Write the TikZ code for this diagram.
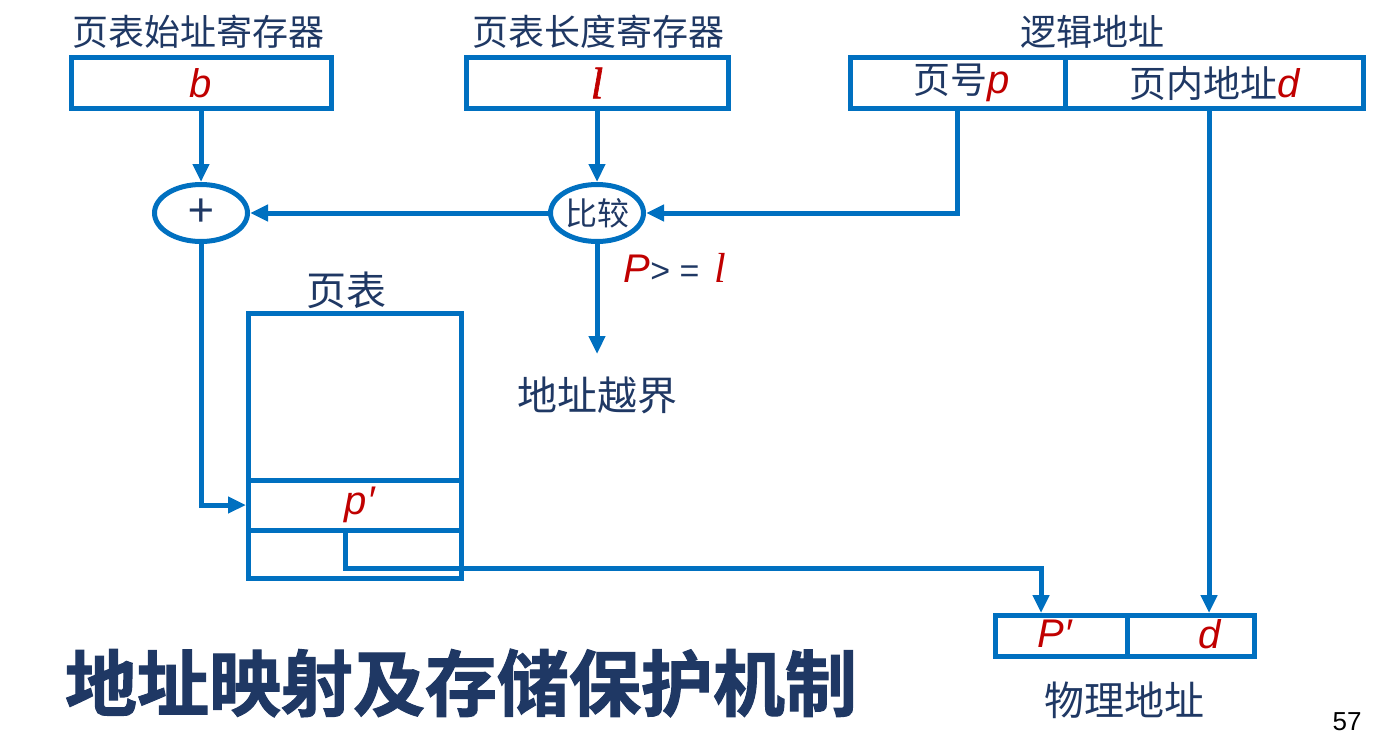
\documentclass[tikz,border=0pt]{standalone}
\usepackage{fontspec}
\setmainfont{Noto Sans CJK SC}
\newfontfamily\titlefont{Noto Sans CJK SC Bold}[FakeBold=1.5]
\newfontfamily\latinsans{Liberation Sans}
\newfontfamily\latinserif{Liberation Serif}
\newfontfamily\latinserifbold{Liberation Serif}[FakeBold=1.5]
\usetikzlibrary{arrows.meta,shapes.geometric}

\definecolor{lineblue}{HTML}{0070C0}
\definecolor{textblue}{HTML}{1F3864}
\definecolor{varred}{HTML}{C00000}

% 变量（红色斜体）
\newcommand{\var}[1]{{\color{varred}\latinsans\itshape\fontsize{40}{44}\selectfont #1}}
\newcommand{\varl}{{\color{varred}\latinserif\itshape\fontsize{42}{46}\selectfont l}}

\tikzset{
    cell/.style={draw=lineblue, rectangle, inner sep=0pt, line width=5pt,
        text=textblue, font=\fontsize{37}{40}\selectfont},
    oval/.style={draw=lineblue, ellipse, minimum width=93pt, minimum height=57pt,
        inner sep=0pt, line width=5pt, text=textblue, font=\fontsize{32}{36}\selectfont},
    arr/.style={draw=lineblue, line width=5pt, -{Triangle[length=18pt,width=16pt]}},
    lbl/.style={text=textblue, inner sep=0pt, font=\fontsize{36}{40}\selectfont},
    biglbl/.style={text=textblue, inner sep=0pt, font=\fontsize{40}{44}\selectfont},
}

\begin{document}
\begin{tikzpicture}[x=1pt, y=-1pt]
    \useasboundingbox (0,0) rectangle (1376,744);

    % 寄存器
    \node[cell, minimum width=260pt, minimum height=51pt] (base) at (201,83) {\var{b}};
    \node[cell, minimum width=262pt, minimum height=51pt] (limit) at (597,83)
        {{\color{varred}\latinserifbold\itshape\fontsize{44}{46}\selectfont l}};
    \node[lbl] (baselbl) at (198,32) {页表始址寄存器};
    \node[lbl] (limitlbl) at (598,32) {页表长度寄存器};

    % 逻辑地址
    \node[cell, minimum width=214.5pt, minimum height=51pt] (pagenum) at (957.75,83) {\hspace{8pt}页号\var{p}};
    \node[cell, minimum width=298.5pt, minimum height=51pt] (offset) at (1214.25,83) {页内地址\var{d}\hspace{12pt}};
    \node[lbl] (logiclbl) at (1092,32) {逻辑地址};

    % 加法器与比较器
    \node[oval, font=\fontsize{46}{48}\selectfont] (adder) at (201,213) {+};
    \node[oval] (comparer) at (597,213) {比较};
    \node[text=textblue, inner sep=0pt, font=\latinsans\fontsize{34}{40}\selectfont] (cond) at (675,268)
        {\var{P}>\;=\;\,\varl};
    \coordinate (oobtip) at (597,354);
    \node[biglbl] (oob) at (597,395) {地址越界};

    % 页表
    \node[cell, minimum width=212.5pt, minimum height=166.5pt] (ptbody) at (354.75,396.75) {};
    \node[cell, minimum width=212.5pt, minimum height=50pt] (ptentry) at (354.75,505) {\hspace{10pt}\var{p′}};
    \node[cell, minimum width=212.5pt, minimum height=48pt] (ptnext) at (354.75,554) {};
    \node[biglbl] (ptlbl) at (346,290) {页表};

    % 物理地址
    \node[cell, minimum width=131.5pt, minimum height=41pt] (frame) at (1061.25,636) {};
    \node[cell, minimum width=127.5pt, minimum height=41pt] (physoff) at (1190.75,636) {};
    \node[inner sep=0pt] (framev) at (1055,634) {\var{P′}};
    \node[inner sep=0pt] (physd) at (1210,634) {\var{d}};
    \node[biglbl] (physlbl) at (1124,700) {物理地址};

    % 连线
    \draw[arr] (base.south) -- (adder.north);
    \draw[arr] (limit.south) -- (comparer.north);
    \draw[arr] (pagenum.south) |- (comparer.east);
    \draw[arr] (comparer.west) -- (adder.east);
    \draw[arr] (comparer.south) -- (oobtip);
    \draw[arr] (adder.south) |- (ptentry.west);
    \coordinate (pfout) at (345,530);
    \coordinate (pfbend) at (1041,568);
    \draw[arr] (pfout) |- (pfbend) -- (frame.north -| pfbend);
    \coordinate (dcol) at (1209,0);
    \draw[arr] (offset.south -| dcol) -- (physoff.north -| dcol);

    % 标题
    \node[text=textblue, inner sep=0pt, font=\titlefont\fontsize{72}{76}\selectfont] (title) at (461,683)
        {地址映射及存储保护机制};
    \node[inner sep=0pt, font=\latinsans\fontsize{26}{28}\selectfont] (pageno) at (1347,722) {57};
\end{tikzpicture}
\end{document}
